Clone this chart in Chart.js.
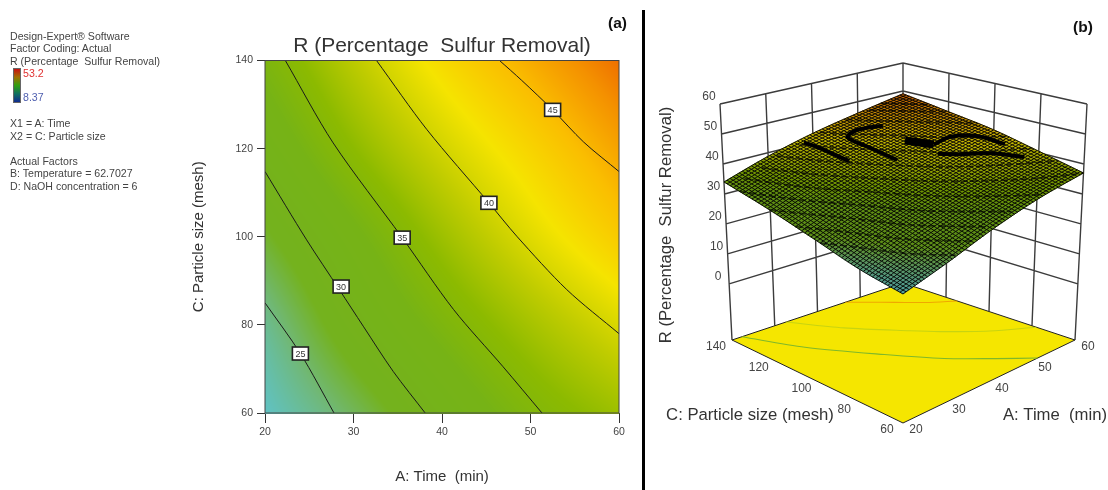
<!DOCTYPE html>
<html>
<head>
<meta charset="utf-8">
<title>R (Percentage Sulfur Removal)</title>
<script src="https://cdn.jsdelivr.net/npm/chart.js@4/dist/chart.umd.js"></script>
<style>
  html, body { margin: 0; padding: 0; background: #fff; }
  body { width: 1108px; height: 490px; position: relative; overflow: hidden; font-family: "Liberation Sans", Arial, sans-serif; }
  canvas { position: absolute; top: 0; filter: blur(0.35px); }
  #contourCanvas { left: 0; }
  #surfaceCanvas { left: 640px; }
  #divider { position: absolute; left: 642px; top: 10px; width: 3px; height: 480px; background: #000; }
  .tag { position: absolute; font-weight: bold; font-size: 15.5px; color: #111; }
  #notes { position: absolute; left: 10px; top: 29.5px; font-size: 10.6px; line-height: 12.5px; color: #444; white-space: pre; filter: blur(0.3px); }
  #scaleBar { position: absolute; left: 13px; top: 68px; width: 6px; height: 33px; border: 1px solid #666;
    background: linear-gradient(#c81010, #a07000 25%, #30a010 50%, #107060 75%, #102a90); }
  .scaleNum { position: absolute; left: 23px; font-size: 10.6px; }
</style>
</head>
<body>
<canvas id="contourCanvas" width="640" height="490"></canvas>
<canvas id="surfaceCanvas" width="468" height="490"></canvas>
<div id="divider"></div>
<div class="tag" style="left:608px;top:14px">(a)</div>
<div class="tag" style="left:1073px;top:18px">(b)</div>
<div id="notes"></div>
<div id="scaleBar"></div>
<div class="scaleNum" style="top:67px;color:#e03030">53.2</div>
<div class="scaleNum" style="top:91px;color:#5060b0">8.37</div>
<script>
// --- DATA ---
const timeTicks = [20, 30, 40, 50, 60];
const sizeTicks = [60, 80, 100, 120, 140];
const heightTicks = [0, 10, 20, 30, 40, 50, 60];

// R at each timeTicks / sizeTicks crossing (rows follow sizeTicks)
const rRow60 = [22, 26, 30.7, 34.5, 37];
const rRow80 = [24, 29.7, 34, 37.5, 40.5];
const rRow100 = [27.5, 32.5, 37, 40.8, 44];
const rRow120 = [31, 36, 40, 43.3, 46.5];
const rRow140 = [34, 38.8, 42.8, 46, 49];
const rRows = [rRow60, rRow80, rRow100, rRow120, rRow140];

const contourLevels = [25, 30, 35, 40, 45];
const contourTime = [
  [20, 24, 27.8],
  [20, 24.7, 28.4, 31.1, 34.5, 38.1],
  [22.3, 27.7, 35.5, 41.3, 46.9, 51.3],
  [32.6, 38.3, 45.3, 48.5, 54.1, 60],
  [46.5, 49, 52.5, 56, 60]
];
const contourSize = [
  [85, 73.5, 60],
  [114.8, 99.3, 88, 79.7, 69.4, 60],
  [140, 121.3, 99.8, 83.5, 70.5, 60],
  [140, 124.3, 107.7, 100, 88, 78],
  [140, 135.5, 128.8, 121.5, 114.8]
];
const labelTime = [24, 28.6, 35.5, 45.3, 52.5];
const labelSize = [73.5, 88.7, 99.8, 107.7, 128.8];

// dark moire streaks seen on the surface in (b)
const moireTime = [
  [49.7, 45.8, 43, 43.2, 43.4],
  [48.6, 50.6],
  [50.6, 54.1, 57, 58],
  [48.9, 50.9, 54.6, 57.3],
  [37, 37.5, 38]
];
const moireSize = [
  [128.4, 132, 130.6, 119.8, 109.5],
  [116.4, 107.7],
  [107.7, 107.2, 100.8, 91],
  [102.6, 97.6, 90.2, 80.9],
  [138, 130.8, 120]
];
const streakLevels = [27, 29, 31, 33, 35, 37, 39, 41, 43, 45, 46.5, 47.5];

const noteLines = [
  'Design-Expert\u00AE Software',
  'Factor Coding: Actual',
  'R (Percentage  Sulfur Removal)',
  '', '', '',
  '',
  'X1 = A: Time',
  'X2 = C: Particle size',
  '',
  'Actual Factors',
  'B: Temperature = 62.7027',
  'D: NaOH concentration = 6'
];
document.getElementById('notes').textContent = noteLines.join('\n');

// --- SHARED HELPERS ---
const rampValues = [22, 25, 28, 33, 36, 39, 42, 45, 47.5, 49];
const rampColors = [
  [96, 194, 196], [112, 184, 120], [116, 178, 30], [118, 179, 22], [140, 186, 0],
  [192, 204, 0], [245, 228, 0], [250, 190, 0], [244, 145, 0], [238, 112, 0]
];

function rampColor(value) {
  let i = 0;
  while (i < rampValues.length - 2 && value > rampValues[i + 1]) i++;
  const t = Math.max(0, Math.min(1, (value - rampValues[i]) / (rampValues[i + 1] - rampValues[i])));
  return rampColors[i].map((c, k) => c + (rampColors[i + 1][k] - c) * t);
}

// smooth reading between the grid values (Catmull-Rom through a row or column)
function spline(row, g) {
  const i = Math.max(0, Math.min(row.length - 2, Math.floor(g)));
  const t = g - i;
  const p1 = row[i], p2 = row[i + 1];
  const p0 = i > 0 ? row[i - 1] : 2 * p1 - p2;
  const p3 = i < row.length - 2 ? row[i + 2] : 2 * p2 - p1;
  return 0.5 * (2 * p1 + (p2 - p0) * t + (2 * p0 - 5 * p1 + 4 * p2 - p3) * t * t + (3 * p1 - p0 - 3 * p2 + p3) * t * t * t);
}

function readR(time, size) {
  return spline(rRows.map(row => spline(row, (time - 20) / 10)), (size - 60) / 20);
}

// --- PANEL (a): CONTOUR PLOT ---
const fieldPlugin = {
  id: 'field',
  beforeDatasetsDraw(chart) {
    const { ctx, chartArea: a, scales: { x, y } } = chart;
    const w = Math.round(a.right - a.left), h = Math.round(a.bottom - a.top);
    const off = document.createElement('canvas');
    off.width = w; off.height = h;
    const octx = off.getContext('2d');
    const img = octx.createImageData(w, h);
    for (let py = 0; py < h; py++) {
      for (let px = 0; px < w; px++) {
        const col = rampColor(readR(x.getValueForPixel(a.left + px), y.getValueForPixel(a.top + py)));
        const n = (py * w + px) * 4;
        img.data[n] = col[0]; img.data[n + 1] = col[1]; img.data[n + 2] = col[2]; img.data[n + 3] = 255;
      }
    }
    octx.putImageData(img, 0, 0);
    ctx.drawImage(off, a.left, a.top);
  },
  afterDatasetsDraw(chart) {
    const { ctx, chartArea: a, scales: { x, y } } = chart;
    ctx.save();
    ctx.strokeStyle = '#444';
    ctx.lineWidth = 1;
    ctx.strokeRect(a.left, a.top, a.right - a.left, a.bottom - a.top);
    ctx.font = '9px "Liberation Sans"';
    ctx.textAlign = 'center';
    ctx.textBaseline = 'middle';
    contourLevels.forEach((level, i) => {
      const px = x.getPixelForValue(labelTime[i]), py = y.getPixelForValue(labelSize[i]);
      ctx.fillStyle = '#fff';
      ctx.fillRect(px - 8, py - 6.5, 16, 13);
      ctx.strokeStyle = '#222';
      ctx.lineWidth = 1.6;
      ctx.strokeRect(px - 8, py - 6.5, 16, 13);
      ctx.fillStyle = '#333';
      ctx.fillText(String(level), px, py + 0.5);
    });
    ctx.restore();
  }
};

new Chart(document.getElementById('contourCanvas'), {
  type: 'scatter',
  data: {
    datasets: contourLevels.map((level, i) => ({
      label: 'R = ' + level,
      data: contourTime[i].map((t, k) => ({ x: t, y: contourSize[i][k] })),
      showLine: true,
      borderColor: '#1a1a1a',
      borderWidth: 1,
      pointRadius: 0,
      tension: 0.3
    }))
  },
  plugins: [fieldPlugin],
  options: {
    responsive: false,
    animation: false,
    layout: { padding: { left: 190, right: 21, top: 0, bottom: 4 } },
    plugins: {
      legend: { display: false },
      tooltip: { enabled: false },
      title: {
        display: true, fullSize: false,
        text: 'R (Percentage  Sulfur Removal)',
        color: '#333',
        font: { family: '"Liberation Sans"', size: 21, weight: 'normal' },
        padding: { top: 34, bottom: 1.3 }
      }
    },
    scales: {
      x: {
        type: 'linear', min: 20, max: 60,
        afterFit: s => { s.height = 73; },
        afterBuildTicks: s => { s.ticks = timeTicks.map(v => ({ value: v })); },
        border: { color: '#444' },
        grid: { drawOnChartArea: false, tickLength: 10, tickColor: '#333' },
        ticks: { color: '#444', padding: 3, maxRotation: 0, font: { family: '"Liberation Sans"', size: 10.5 } },
        title: { display: true, text: 'A: Time  (min)', color: '#333', padding: { top: 0, bottom: 0 }, font: { family: '"Liberation Sans"', size: 15 } }
      },
      y: {
        type: 'linear', min: 60, max: 140,
        afterFit: s => { s.width = 75; },
        afterBuildTicks: s => { s.ticks = sizeTicks.map(v => ({ value: v })); },
        border: { color: '#444' },
        grid: { drawOnChartArea: false, tickLength: 8, tickColor: '#333' },
        ticks: { color: '#444', padding: 4, font: { family: '"Liberation Sans"', size: 10.5 } },
        title: { display: true, text: 'C: Particle size (mesh)', color: '#333', padding: 0, font: { family: '"Liberation Sans"', size: 15 } }
      }
    }
  }
});

// --- PANEL (b): 3D SURFACE ---
const floorLevel = -18.7, topLevel = 60;
// where the eight corners of the box land on the page
const floorCorners = { left: [732, 340], right: [1075, 340], front: [903, 423], back: [903, 283] };
const topCorners = { left: [720, 104], right: [1087, 104], front: [903, 173.5], back: [903, 63] };

function project(time, size, height) {
  const u = (time - 20) / 40, v = (size - 60) / 80, w = (height - floorLevel) / (topLevel - floorLevel);
  const pick = (corners, k) =>
    corners.front[k] * (1 - u) * (1 - v) + corners.right[k] * u * (1 - v) +
    corners.left[k] * (1 - u) * v + corners.back[k] * u * v;
  return {
    x: pick(floorCorners, 0) * (1 - w) + pick(topCorners, 0) * w,
    y: pick(floorCorners, 1) * (1 - w) + pick(topCorners, 1) * w
  };
}

function wallLines() {
  const pts = [];
  const segment = (a, b) => { pts.push(a, b, { x: NaN, y: NaN }); };
  heightTicks.forEach(h => {
    segment(project(20, 140, h), project(60, 140, h));
    segment(project(60, 140, h), project(60, 60, h));
  });
  timeTicks.forEach(t => segment(project(t, 140, floorLevel), project(t, 140, topLevel)));
  sizeTicks.forEach(s => segment(project(60, s, floorLevel), project(60, s, topLevel)));
  return pts;
}

const meshCells = 58;
function meshLines(alongTime) {
  const pts = [];
  for (let i = 0; i <= meshCells; i++) {
    for (let k = 0; k <= meshCells; k++) {
      const t = 20 + 40 * (alongTime ? k : i) / meshCells;
      const s = 60 + 80 * (alongTime ? i : k) / meshCells;
      pts.push(project(t, s, readR(t, s)));
    }
    pts.push({ x: NaN, y: NaN });
  }
  return pts;
}

// the streaks follow lines of equal R across the surface
function streakLine(level) {
  const pts = [];
  for (let t = 20; t <= 60; t += 1) {
    let lo = 60, hi = 140;
    if (readR(t, lo) > level || readR(t, hi) < level) continue;
    for (let n = 0; n < 14; n++) {
      const mid = (lo + hi) / 2;
      if (readR(t, mid) < level) lo = mid; else hi = mid;
    }
    pts.push(project(t, lo, level));
  }
  return pts;
}

const line = (label, data, color, width, extra) => Object.assign(
  { label, data, borderColor: color, borderWidth: width, pointRadius: 0, tension: 0, spanGaps: false, fill: false }, extra);

const surfaceSets = [
  line('Walls', wallLines(), '#3c3c3c', 1.4),
  line('Floor', ['back', 'left', 'front', 'right', 'back'].map(c => project(
    c === 'left' || c === 'front' ? 20 : 60, c === 'front' || c === 'right' ? 60 : 140, floorLevel)),
    '#222', 1, { fill: 'shape', backgroundColor: '#f5e600' }),
  line('Floor contour 35', contourTime[2].map((t, k) => project(t, contourSize[2][k], floorLevel)), '#7fb82a', 1.1, { tension: 0.3 }),
  line('Floor contour 40', contourTime[3].map((t, k) => project(t, contourSize[3][k], floorLevel)), '#c8d410', 1.1, { tension: 0.3 }),
  line('Floor contour 45', contourTime[4].map((t, k) => project(t, contourSize[4][k], floorLevel)), '#f0a800', 1.1, { tension: 0.3 }),
  line('Mesh time', meshLines(true), 'rgba(0,0,0,0.9)', 1),
  line('Mesh size', meshLines(false), 'rgba(0,0,0,0.9)', 1)
];
streakLevels.forEach(level => {
  surfaceSets.push(line('Streak ' + level, streakLine(level), 'rgba(0,0,0,0.6)', 1.7, { borderDash: [7, 3] }));
});
moireTime.forEach((times, i) => {
  surfaceSets.push(line('Moire ' + i, times.map((t, k) => project(t, moireSize[i][k], readR(t, moireSize[i][k]))), '#000', i === 1 ? 8 : 4, { tension: 0.3 }));
});
surfaceSets.forEach((d, i) => { d.order = -i; });

const surfacePlugin = {
  id: 'surfaceCells',
  beforeDatasetDraw(chart, args) {
    if (chart.data.datasets[args.index].label !== 'Mesh time') return;
    const { ctx, scales: { x, y } } = chart;
    const corner = (t, s) => {
      const p = project(t, s, readR(t, s));
      return [x.getPixelForValue(p.x), y.getPixelForValue(p.y)];
    };
    ctx.save();
    ctx.lineWidth = 0.6;
    for (let i = 0; i < meshCells; i++) {
      for (let k = 0; k < meshCells; k++) {
        const t0 = 20 + 40 * i / meshCells, t1 = 20 + 40 * (i + 1) / meshCells;
        const s0 = 60 + 80 * k / meshCells, s1 = 60 + 80 * (k + 1) / meshCells;
        // the picture's surface is duller than the contour panel
        const col = rampColor(readR((t0 + t1) / 2, (s0 + s1) / 2)).map(c => Math.round(c * 0.8));
        ctx.fillStyle = ctx.strokeStyle = `rgb(${col[0]},${col[1]},${col[2]})`;
        ctx.beginPath();
        [corner(t0, s0), corner(t1, s0), corner(t1, s1), corner(t0, s1)].forEach((p, n) => {
          if (n) ctx.lineTo(p[0], p[1]); else ctx.moveTo(p[0], p[1]);
        });
        ctx.closePath();
        ctx.fill();
        ctx.stroke();
      }
    }
    ctx.restore();
  },
  afterDraw(chart) {
    const { ctx, scales: { x, y } } = chart;
    const put = (text, p, dx, dy) => ctx.fillText(text, x.getPixelForValue(p.x) + dx, y.getPixelForValue(p.y) + dy);
    ctx.save();
    ctx.textAlign = 'center';
    ctx.textBaseline = 'middle';
    ctx.fillStyle = '#444';
    ctx.font = '12px "Liberation Sans"';
    heightTicks.forEach(h => put(String(h), project(20, 140, h), -11, -7));
    sizeTicks.forEach(s => put(String(s), project(20, s, floorLevel), -16, 7));
    timeTicks.forEach(t => put(String(t), project(t, 60, floorLevel), 13, 7));
    ctx.fillStyle = '#333';
    ctx.font = '16.7px "Liberation Sans"';
    put('C: Particle size (mesh)', { x: 750, y: 415.5 }, 0, 0);
    put('A: Time  (min)', { x: 1055, y: 415.5 }, 0, 0);
    ctx.translate(x.getPixelForValue(666), y.getPixelForValue(225));
    ctx.rotate(-Math.PI / 2);
    ctx.fillText('R (Percentage  Sulfur Removal)', 0, 0);
    ctx.restore();
  }
};

new Chart(document.getElementById('surfaceCanvas'), {
  type: 'line',
  data: { datasets: surfaceSets },
  plugins: [surfacePlugin],
  options: {
    responsive: false,
    animation: false,
    layout: { padding: 0 },
    plugins: { legend: { display: false }, tooltip: { enabled: false } },
    scales: {
      x: { type: 'linear', min: 640, max: 1108, display: false },
      y: { type: 'linear', min: 0, max: 490, reverse: true, display: false }
    }
  }
});
</script>
</body>
</html>
